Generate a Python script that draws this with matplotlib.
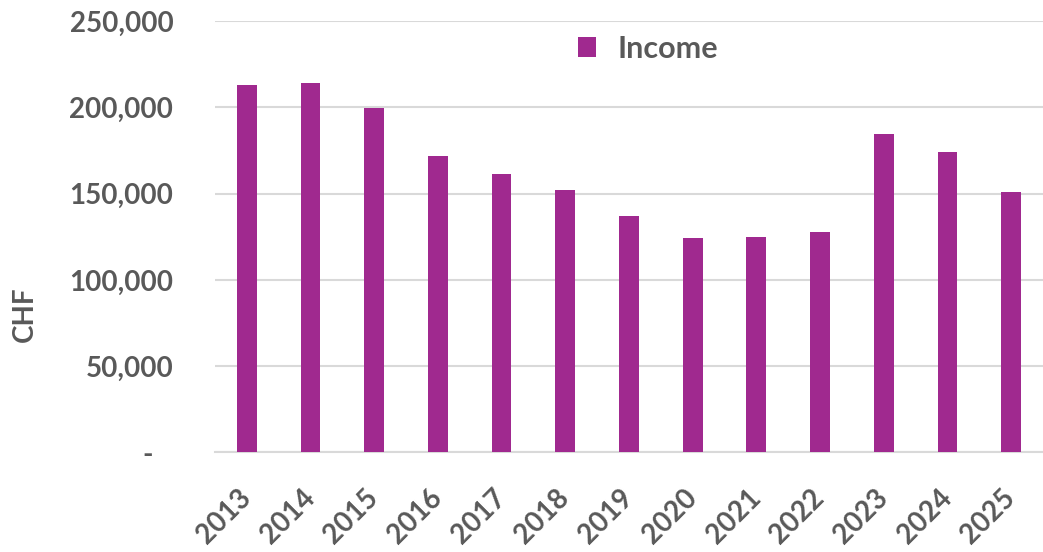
import matplotlib
matplotlib.use("Agg")
import matplotlib.pyplot as plt
from matplotlib.ticker import FuncFormatter

years = ["2013", "2014", "2015", "2016", "2017", "2018", "2019",
         "2020", "2021", "2022", "2023", "2024", "2025"]
income = [213000, 214000, 199500, 172000, 161500, 152000, 137000,
          124000, 125000, 128000, 184500, 174000, 151000]

bar_color = "#A0298F"
text_color = "#595959"
grid_color = "#D9D9D9"

plt.rcParams["font.family"] = ["Lato", "DejaVu Sans"]
plt.rcParams["font.weight"] = "bold"

fig = plt.figure(figsize=(10.43, 5.52), dpi=100)
ax = fig.add_axes([0.2061, 0.1803, 0.7939, 0.7817])

x = list(range(len(years)))
ax.bar(x, income, width=0.31, color=bar_color, label="Income", zorder=3)

ax.set_xlim(-0.5, len(years) - 0.5)
ax.set_ylim(0, 250000)
ax.set_yticks(range(0, 250001, 50000))


def fmt(v, pos):
    if v == 0:
        return "-   "
    return "{:,.0f}".format(v)


ax.yaxis.set_major_formatter(FuncFormatter(fmt))
ax.set_xticks(x)
ax.set_xticklabels(years, rotation=45, ha="right", va="center",
                   rotation_mode="anchor")

ax.tick_params(axis="y", length=0, pad=30, labelsize=20, labelcolor=text_color)
ax.tick_params(axis="x", length=0, pad=30, labelsize=20, labelcolor=text_color)
for lab in ax.get_xticklabels() + ax.get_yticklabels():
    lab.set_fontweight("bold")

ax.grid(axis="y", color=grid_color, linewidth=1.5, zorder=0)
for s in ["top", "right", "left"]:
    ax.spines[s].set_visible(False)
ax.spines["bottom"].set_color(grid_color)
ax.spines["bottom"].set_linewidth(1.5)

fig.text(0.024, 0.43, "CHF", rotation=90, ha="center", va="center",
         fontsize=20, fontweight="bold", color=text_color)

leg = ax.legend(loc="center", bbox_to_anchor=(648 / 1043, 1 - 49 / 552),
                bbox_transform=fig.transFigure, frameon=False,
                prop={"size": 22, "weight": "bold"}, handlelength=0.62,
                handleheight=0.62, handletextpad=0.7)
for t in leg.get_texts():
    t.set_color(text_color)

fig.savefig("out.png", dpi=100)
